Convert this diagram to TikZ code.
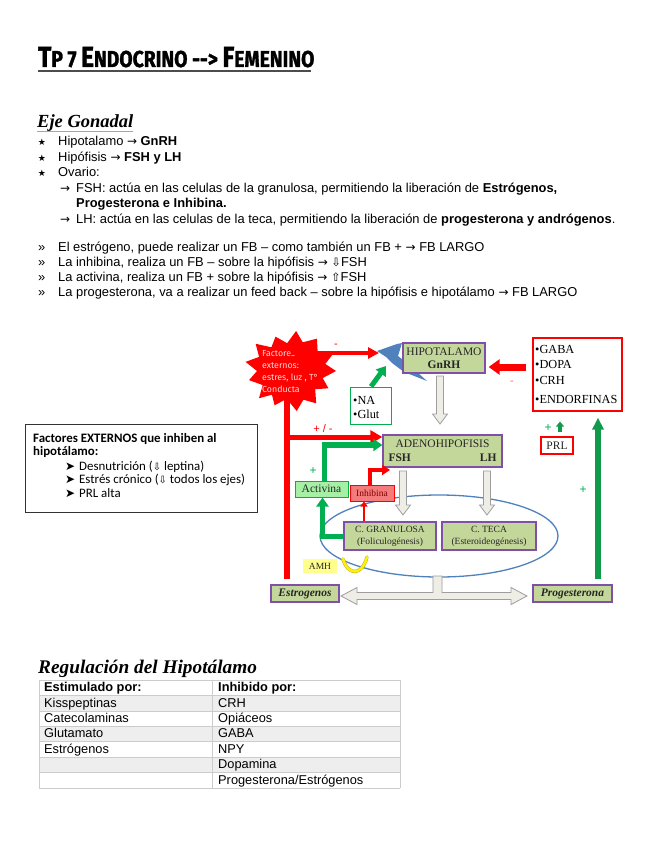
\documentclass[tikz,border=0pt]{standalone}
\usepackage{graphicx}
\usepackage{fontspec}
\setmainfont{Liberation Sans}
\newfontfamily\serifd{Liberation Serif}
\newfontfamily\djsans{DejaVu Sans}
\newfontfamily\calf{Carlito}
\newfontfamily\titlef[BoldFeatures={FakeBold=1.5}]{Fira Sans}
\newfontfamily\burstf{Fira Sans}
\usetikzlibrary{arrows.meta,calc}
\definecolor{boxgreen}{HTML}{C4D79B}
\definecolor{boxpurple}{HTML}{8050A8}
\definecolor{brightgreen}{HTML}{00B050}
\definecolor{darkgreen}{HTML}{119A4C}
\definecolor{redc}{HTML}{FF0000}
\definecolor{bluec}{HTML}{4F81BD}
\definecolor{hollowfill}{HTML}{EEEDE6}
\definecolor{hollowline}{HTML}{9E9E9E}
\definecolor{tablegray}{HTML}{EEEEEE}
\definecolor{tableline}{HTML}{CCCCCC}
\definecolor{actfill}{HTML}{A6F0A6}
\definecolor{inhfill}{HTML}{F47C7C}
\definecolor{amhfill}{HTML}{FFFF8C}
\newcommand\arr{{\djsans\fontsize{12}{12}\selectfont →}}
\newcommand\dnarr{{\djsans\fontsize{11.5}{11}\selectfont ⇩}}
\newcommand\uparr{{\djsans\fontsize{11.5}{11}\selectfont ⇧}}
\newcommand\hollowdown[3]{%
  \filldraw[hollowarrow] (#1-3.5,#2) -- (#1+3.5,#2) -- (#1+3.5,#3-10) -- (#1+7.5,#3-10) -- (#1,#3) -- (#1-7.5,#3-10) -- (#1-3.5,#3-10) -- cycle;}
\tikzset{
  btext/.style={anchor=base west, inner sep=0pt, font=\fontsize{12.9}{14}\selectfont},
  bmark/.style={anchor=base, inner sep=0pt},
  hbox/.style={draw=boxpurple, line width=1.3pt, fill=boxgreen, text=black!85, align=center, inner sep=1pt},
  rbox/.style={draw=redc, line width=1.2pt, fill=white, inner sep=1pt},
  redarrow/.style={draw=redc, line width=5pt, -{Triangle[length=12pt,width=13pt]}},
  greenarrow/.style={draw=brightgreen, line width=5.5pt, -{Triangle[length=9pt,width=12pt]}},
  hollowarrow/.style={draw=hollowline, fill=hollowfill, line width=0.8pt},
  ttext/.style={anchor=base west, inner sep=0pt, font=\fontsize{12.8}{14}\selectfont},
  ctext/.style={anchor=base west, inner sep=0pt, font=\calf\fontsize{12.9}{14}\selectfont},
  stext/.style={anchor=base west, inner sep=0pt, font=\serifd\fontsize{12.3}{13}\selectfont},
}
\begin{document}
\begin{tikzpicture}[x=1pt,y=-1pt]
\useasboundingbox[fill=white] (0,0) rectangle (655,848);

% ---------- title ----------
\node[anchor=base west, inner sep=0pt] (title) at (38,67) {\titlef\bfseries\scalebox{0.84}[1]{\fontsize{29}{29}\selectfont T\fontsize{23}{23}\selectfont P 7 \fontsize{29}{29}\selectfont E\fontsize{23}{23}\selectfont NDOCRINO -{}-> \fontsize{29}{29}\selectfont F\fontsize{23}{23}\selectfont EMENINO}};
\draw[line width=1.8pt, black!70] (38,71) -- (311,71);

% ---------- Eje Gonadal ----------
\node[anchor=base west, inner sep=0pt] (eje) at (37,128) {\serifd\itshape\bfseries\fontsize{18.5}{20}\selectfont Eje Gonadal};
\draw[line width=0.8pt, black!35] (37,131) -- (133,131);

\node[bmark] (s1) at (42,145) {\djsans\fontsize{9}{9}\selectfont ★};
\node[btext] (t1) at (58,145) {Hipotalamo \arr{} \textbf{GnRH}};
\node[bmark] (s2) at (42,161) {\djsans\fontsize{9}{9}\selectfont ★};
\node[btext] (t2) at (58,161) {Hipófisis \arr{} \textbf{FSH y LH}};
\node[bmark] (s3) at (42,176) {\djsans\fontsize{9}{9}\selectfont ★};
\node[btext] (t3) at (58,176) {Ovario:};
\node[btext] (a4) at (60,192) {\arr};
\node[btext] (t4) at (76,192) {FSH: actúa en las celulas de la granulosa, permitiendo la liberación de \textbf{Estrógenos,}};
\node[btext] (t5) at (76,207) {\textbf{Progesterona e Inhibina.}};
\node[btext] (a6) at (60,223) {\arr};
\node[btext] (t6) at (76,223) {LH: actúa en las celulas de la teca, permitiendo la liberación de \textbf{progesterona y andrógenos}.};

\node[btext] (g1) at (38,251) {»};
\node[btext] (u1) at (58,251) {El estrógeno, puede realizar un FB – como también un FB + \arr{} FB LARGO};
\node[btext] (g2) at (38,266) {»};
\node[btext] (u2) at (58,266) {La inhibina, realiza un FB – sobre la hipófisis \arr{} \dnarr FSH};
\node[btext] (g3) at (38,281) {»};
\node[btext] (u3) at (58,281) {La activina, realiza un FB + sobre la hipófisis \arr{} \uparr FSH};
\node[btext] (g4) at (38,296) {»};
\node[btext] (u4) at (58,296) {La progesterona, va a realizar un feed back – sobre la hipófisis e hipotálamo \arr{} FB LARGO};

% ---------- left text box ----------
\node[draw=black!80, line width=0.8pt, minimum width=232, minimum height=88, anchor=north west, inner sep=0pt] (ext) at (25,424) {};
\node[ctext] (e1) at (33,442) {\bfseries Factores EXTERNOS que inhiben al};
\node[ctext] (e2) at (33,455.5) {\bfseries hipotálamo:};
\node[ctext] (e3m) at (65,470) {\djsans\fontsize{12}{12}\selectfont ➤};
\node[ctext] (e3) at (79,470) {Desnutrición ({\djsans\fontsize{10}{10}\selectfont ⇩} leptina)};
\node[ctext] (e4m) at (65,483.5) {\djsans\fontsize{12}{12}\selectfont ➤};
\node[ctext] (e4) at (79,483.5) {Estrés crónico ({\djsans\fontsize{10}{10}\selectfont ⇩} todos los ejes)};
\node[ctext] (e5m) at (65,497) {\djsans\fontsize{12}{12}\selectfont ➤};
\node[ctext] (e5) at (79,497) {PRL alta};

% ---------- diagram ----------
\draw[bluec, line width=1.3pt] (439,536) ellipse [x radius=119, y radius=41];

\hollowdown{440}{376}{424}
\hollowdown{403}{471}{515}
\hollowdown{487}{471}{515}
\filldraw[hollowarrow] (341,596) -- (357,587.5) -- (357,592.5) -- (433,592.5) -- (433,576) -- (442,576) -- (442,592.5) -- (511,592.5) -- (511,587.5) -- (527,596) -- (511,604.5) -- (511,599.5) -- (357,599.5) -- (357,604.5) -- cycle;

\coordinate (rtop) at (287,392);
\coordinate (rbot) at (287,579);
\draw[redc, line width=6pt] (rtop) -- (rbot);

% starburst
\coordinate (burst) at (291,371);
\fill[redc] plot[domain=0:360, samples=27, variable=\t] ({291+cos(\t)*(45-11*mod(round(\t/13.846154),2))*(1+0.06*sin(3*\t))}, {371-sin(\t)*(39-10*mod(round(\t/13.846154),2))*(1+0.06*cos(5*\t))}) -- cycle;
\node[anchor=north west, align=left, inner sep=0pt, text=white!85!red, font=\burstf\fontsize{8.8}{12}\selectfont] (bursttxt) at (262,350) {Factores\\externos:\\estres, luz , T°\\Conducta};

\fill[bluec] (377,351) -- (397,344) -- (402,343) -- (398,356) -- (408,364) -- (427,381) -- (404,372) -- (392,363) -- (386,357) -- cycle;

\node[hbox, minimum width=82, minimum height=30, font=\serifd\fontsize{11.5}{13}\selectfont] (hip) at (444,358) {HIPOTALAMO\\\textbf{GnRH}};
\node[hbox, minimum width=119, minimum height=32, font=\serifd\fontsize{11.5}{14}\selectfont] (adeno) at (442.5,451) {ADENOHIPOFISIS\\\makebox[108pt]{\textbf{FSH}\hfill\textbf{LH}}};
\node[hbox, minimum width=92, minimum height=28, font=\serifd\fontsize{9.5}{12}\selectfont] (gran) at (390,536) {C. GRANULOSA\\(Foliculogénesis)};
\node[hbox, minimum width=94, minimum height=28, font=\serifd\fontsize{9.5}{12}\selectfont] (teca) at (489,536) {C. TECA\\(Esteroideogénesis)};
\node[hbox, minimum width=68, minimum height=17, font=\serifd\bfseries\itshape\fontsize{11.5}{12}\selectfont] (estr) at (305,593.5) {Estrogenos};
\node[hbox, minimum width=79, minimum height=17, font=\serifd\bfseries\itshape\fontsize{11.5}{12}\selectfont] (prog) at (572.5,593.5) {Progesterona};
\node[draw=brightgreen, line width=1pt, fill=actfill, minimum width=53, minimum height=16, inner sep=0pt, font=\serifd\fontsize{11.5}{12}\selectfont, text=black!85] (act) at (321.5,489) {Activina};
\node[draw=redc, line width=1pt, fill=inhfill, minimum width=44, minimum height=16, inner sep=0pt, font=\serifd\fontsize{9.5}{11}\selectfont, text=red!50!black] (inh) at (372,493) {Inhibina};
\node[fill=amhfill, minimum width=34, minimum height=14, inner sep=0pt, font=\serifd\fontsize{9.5}{11}\selectfont, text=black!85] (amh) at (320,566) {AMH};
\node[draw=brightgreen, line width=1pt, fill=white, minimum width=41, minimum height=37, inner sep=0pt] (na) at (371,405.5) {};
\node[stext] (natxt) at (353,404) {•NA};
\node[stext] (gluttxt) at (353,418) {•Glut};
\node[rbox, minimum width=89, minimum height=73] (gaba) at (577.5,374.5) {};
\node[stext] (gab1) at (535,353) {•GABA};
\node[stext] (gab2) at (535,368) {•DOPA};
\node[stext] (gab3) at (535,384) {•CRH};
\node[stext] (gab4) at (535,403) {•ENDORFINAS};
\node[rbox, minimum width=32, minimum height=17, font=\serifd\fontsize{11.5}{12}\selectfont, text=black!85] (prl) at (557,445.5) {PRL};

\draw[yellow!70!black, line width=3.4pt, line cap=round] (343,559) .. controls (348,576) and (362,576) .. (367,557);
\draw[yellow, line width=2.4pt, line cap=round] (343,559) .. controls (348,576) and (362,576) .. (367,557);

\coordinate (boltL) at (379,353);
\draw[draw=redc, line width=4pt, -{Triangle[length=11pt,width=11pt]}] (burst |- boltL) -- (boltL);
\node[text=redc, font=\fontsize{11}{11}\selectfont, inner sep=0pt] (minus1) at (336,346) {-};
\coordinate (rh) at (287,437);
\draw[redarrow] (rh) -- (rh -| adeno.west);
\node[text=redc, font=\fontsize{11}{11}\selectfont, inner sep=0pt] (pm1) at (323,429) {+ / -};
\coordinate (inhtip) at (390,470);
\draw[draw=redc, line width=4pt, -{Triangle[length=8pt,width=10pt]}] ([xshift=-2pt]inh.north) |- (inhtip);
\draw[draw=redc, line width=2.5pt, -{Triangle[length=5pt,width=7pt]}] ($(gran.north)+(-26,0)$) -- ($(gran.north |- inh.south)+(-26,0)$);
\coordinate (gy) at (0,367);
\draw[draw=redc, line width=7pt, -{Triangle[length=11pt,width=15pt]}] ($(gaba.west |- gy)+(-6,0)$) -- ($(hip.east |- gy)+(3,0)$);
\node[text=red!60, font=\fontsize{11}{11}\selectfont, inner sep=0pt] (minus2) at (512,383) {-};

\draw[greenarrow] ([xshift=3pt]act.north) |- ([yshift=6pt]adeno.west);
\node[text=brightgreen, font=\fontsize{12}{12}\selectfont, inner sep=0pt] (plus1) at (313,471) {+};
\draw[greenarrow, line width=5pt] (gran.west) -| ([xshift=1pt]act.south);
\draw[greenarrow, line width=5pt] (na.north) -- (386,366);
\draw[draw=darkgreen, line width=6.5pt, -{Triangle[length=12pt,width=11pt]}] ($(prog.north)+(25.5,-5)$) -- ($(gaba.south)+(20.5,6)$);
\node[text=brightgreen, font=\fontsize{12}{12}\selectfont, inner sep=0pt] (plus2) at (583,490) {+};
\draw[draw=darkgreen, line width=3.5pt, -{Triangle[length=5pt,width=8pt]}] ($(prl.north)+(3,-4)$) -- ($(gaba.south)+(-17.5,10)$);
\node[text=brightgreen, font=\fontsize{12}{12}\selectfont, inner sep=0pt] (plus3) at (548,428) {+};

\node[anchor=base west, inner sep=0pt] (reg) at (38,673) {\serifd\itshape\bfseries\fontsize{19.3}{20}\selectfont Regulación del Hipotálamo};

\foreach \ya/\yb in {695.5/711, 726.3/741.7, 757/772.5} \fill[tablegray] (39,\ya) rectangle (400,\yb);
\foreach \yy in {680,695.5,711,726.3,741.7,757,772.5,788} \draw[tableline, line width=0.7pt] (39,\yy) -- (400,\yy);
\foreach \xx in {39,212.7,400} \draw[tableline, line width=0.7pt] (\xx,680) -- (\xx,788);
\node[ttext] (th1) at (44,691.5) {\bfseries Estimulado por:};
\node[ttext] (th2) at (218,691.5) {\bfseries Inhibido por:};
\node[ttext] (tl1) at (44,707) {Kisspeptinas};
\node[ttext] (tr1) at (218,707) {CRH};
\node[ttext] (tl2) at (44,722.3) {Catecolaminas};
\node[ttext] (tr2) at (218,722.3) {Opiáceos};
\node[ttext] (tl3) at (44,737.7) {Glutamato};
\node[ttext] (tr3) at (218,737.7) {GABA};
\node[ttext] (tl4) at (44,753) {Estrógenos};
\node[ttext] (tr4) at (218,753) {NPY};
\node[ttext] (tr5) at (218,768.5) {Dopamina};
\node[ttext] (tr6) at (218,784) {Progesterona/Estrógenos};
\end{tikzpicture}
\end{document}
